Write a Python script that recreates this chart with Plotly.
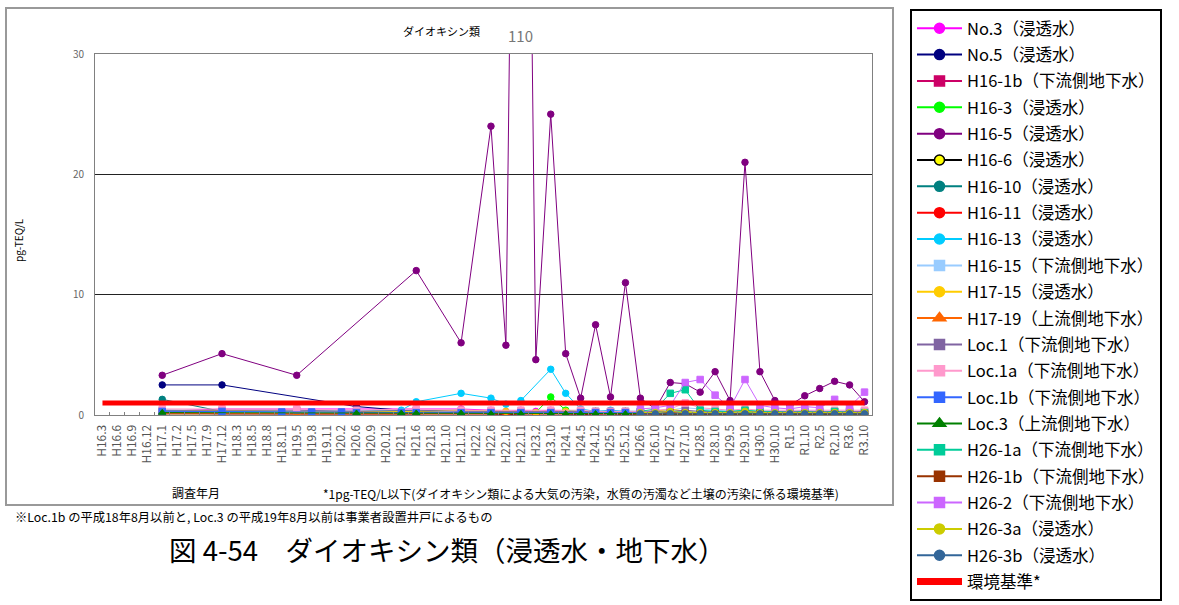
import plotly.graph_objects as go

categories = ["H16.3","H16.6","H16.9","H16.12","H17.1","H17.2","H17.5","H17.9","H17.12","H18.3",
              "H18.5","H18.8","H18.11","H19.5","H19.8","H19.11","H20.2","H20.6","H20.9","H20.12",
              "H21.1","H21.6","H21.8","H21.10","H21.12","H22.2","H22.6","H22.10","H22.11","H23.2",
              "H23.10","H24.1","H24.5","H24.12","H25.5","H25.12","H26.6","H26.10","H27.5","H27.10",
              "H28.5","H28.10","H29.5","H29.10","H30.5","H30.10","R1.5","R1.10","R2.5","R2.10",
              "R3.6","R3.10"]

# sampling dates (浸透水)
leach_dates = ["H17.1","H17.12","H19.5","H21.6","H21.12","H22.6","H22.10","H22.11","H23.2","H23.10",
               "H24.1","H24.5","H24.12","H25.5","H25.12","H26.6","H26.10","H27.5","H27.10","H28.5",
               "H28.10","H29.5","H29.10","H30.5","H30.10","R1.5","R1.10","R2.5","R2.10","R3.6","R3.10"]
# sampling dates (地下水)
gw_dates = ["H17.1","H17.12","H19.5","H20.6","H21.6","H21.12","H22.6","H22.11","H23.10","H24.5",
            "H24.12","H25.5","H25.12","H26.6","H26.10","H27.5","H27.10","H28.5","H28.10","H29.5",
            "H29.10","H30.5","H30.10","R1.5","R1.10","R2.5","R2.10","R3.6","R3.10"]
h26_dates = ["H26.6","H26.10","H27.5","H27.10","H28.5","H28.10","H29.5","H29.10","H30.5","H30.10",
             "R1.5","R1.10","R2.5","R2.10","R3.6","R3.10"]
no5_dates = ["H17.1","H17.12","H20.6","H21.6","H21.12","H22.6","H22.11","H23.10","H24.5","H25.5",
             "H26.6","H27.5","H28.5","H29.5","H30.5","R1.5","R2.5","R3.6"]
h16_13_dates = ["H17.1","H17.12","H19.5","H21.1","H21.6","H21.12","H22.6","H22.10","H22.11","H23.10",
                "H24.1","H24.5","H24.12","H25.5","H25.12","H26.6","H26.10","H27.5","H27.10","H28.5",
                "H28.10","H29.5","H29.10","H30.5","H30.10","R1.5","R1.10","R2.5","R2.10","R3.6","R3.10"]
loc1b_dates = ["H17.1","H17.12","H18.11","H19.8","H20.2","H20.6","H21.1","H21.6","H21.12","H22.6",
               "H22.11","H23.10","H24.5","H24.12","H25.5","H25.12","H26.6"]
loc3_dates = ["H17.1","H20.6","H21.1","H21.6","H21.12","H22.6","H22.11","H23.10","H24.1","H24.5",
              "H24.12","H25.5","H25.12","H26.6","H26.10","H27.5","H27.10","H28.5","H28.10","H29.5",
              "H29.10","H30.5","H30.10","R1.5","R1.10","R2.5","R2.10","R3.6","R3.10"]

no3_vals = [0.3,0.5,0.5,0.5,0.5,0.4,0.3,0.4,0.3,0.4,0.3,0.3,0.2,0.3,0.2,0.3,0.2,0.2,0.2,0.2,
            0.2,0.1,0.2,0.2,0.1,0.2,0.1,0.2,0.1,0.1,0.1]
no5_vals = [2.5,2.5,0.7,0.3,0.2,0.2,0.1,0.2,0.1,0.1,0.1,0.1,0.1,0.1,0.1,0.1,0.1,0.1]
h16_1b_vals = [0.2,0.1,0.1,0.1,0.1,0.2,0.1,0.1,0.2,0.1,0.1,0.1,0.1,0.1,0.1,0.1,0.1,0.1,0.1,0.1,
               0.1,0.1,0.1,0.1,0.1,0.1,0.1,0.1,0.1]
h16_3_vals = [0.2,0.3,0.2,0.3,0.4,0.3,0.2,0.3,0.2,1.5,0.4,0.3,0.3,0.2,0.3,0.2,0.2,0.3,0.2,0.2,
              0.2,0.1,0.2,0.2,0.1,0.1,0.1,0.1,0.1,0.1,0.1]
h16_5_vals = [3.3,5.1,3.3,12.0,6.0,24.0,5.8,110,4.6,25.0,5.1,1.4,7.5,1.5,11.0,1.4,0.5,2.7,2.6,1.9,
              3.6,1.2,21.0,3.6,1.2,0.8,1.6,2.2,2.8,2.5,1.1]
h16_6_vals = [0.1,0.1,0.1,0.1,0.1,0.1,0.0,0.1,0.1,0.1,0.1,0.0,0.1,0.1,0.0,0.1,0.1,0.0,0.1,0.0,
              0.1,0.0,0.1,0.0,0.1,0.0,0.1,0.0,0.1,0.0,0.1]
h16_10_vals = [1.3,0.3,0.2,0.2,0.2,0.2,0.1,0.2,0.1,0.2,0.1,0.1,0.2,0.1,0.1,0.1,0.2,0.1,0.1,0.1,
               0.1,0.1,0.1,0.1,0.1,0.1,0.1,0.1,0.1,0.1,0.1]
h16_11_vals = [0.2,0.15,0.1,0.1,0.1,0.1,0.1,0.1,0.1,0.1,0.1,0.1,0.1,0.1,0.1,0.1,0.1,0.1,0.1,0.1,
               0.1,0.1,0.1,0.1,0.1,0.1,0.1,0.1,0.1,0.1,0.1]
h16_13_vals = [0.4,0.3,0.3,0.4,1.1,1.8,1.4,0.9,1.2,3.8,1.8,0.5,0.3,0.4,0.3,0.3,0.2,0.3,0.3,0.2,
               0.3,0.2,0.3,0.2,0.2,0.2,0.1,0.2,0.1,0.1,0.1]
h16_15_vals = [0.3,0.2,0.2,0.2,0.2,0.3,0.2,0.2,0.3,0.2,0.2,0.2,0.2,0.2,0.3,0.4,0.6,0.5,0.4,0.3,
               0.4,0.3,0.3,0.3,0.4,0.3,0.3,0.3,0.3]
h17_15_vals = [0.3,0.4,0.3,0.3,0.4,0.3,0.3,0.3,0.2,0.3,0.3,0.2,0.3,0.2,0.3,0.2,0.3,0.5,0.3,0.2,
               0.3,0.2,0.3,0.2,0.2,0.2,0.3,0.2,0.2,0.2,0.2]
h17_19_vals = [0.1,0.1,0.1,0.1,0.1,0.1,0.1,0.1,0.1,0.1,0.1,0.1,0.1,0.1,0.1,0.1,0.1,0.1,0.1,0.1,
               0.1,0.1,0.1,0.1,0.1,0.1,0.1,0.1,0.1]
loc1_vals = [0.4,0.4,0.4,0.3,0.4,0.3,0.3,0.3,0.3,0.3,0.3,0.3,0.3,0.3,0.3,0.3,0.4,0.3,0.3,0.3,
             0.3,0.3,0.3,0.3,0.3,0.3,0.3,0.3,0.3]
loc1a_vals = [0.5,0.5,0.5,0.4,0.5,0.4,0.4,0.4,0.4,0.4,0.3,0.3,0.3,0.3,0.4,0.5,1.0,0.6,0.5,0.4,
              0.5,0.4,0.4,0.4,0.4,0.4,0.4,0.4,0.4]
loc1b_vals = [0.3,0.3,0.25,0.25,0.25,0.2,0.2,0.2,0.2,0.2,0.2,0.2,0.2,0.2,0.2,0.2,0.2]
loc3_vals = [0.2,0.15,0.15,0.15,0.15,0.1,0.1,0.1,0.1,0.1,0.1,0.1,0.1,0.1,0.1,0.1,0.1,0.1,0.1,0.1,
             0.1,0.1,0.1,0.1,0.1,0.1,0.1,0.1,0.1]
h26_1a_vals = [0.3,0.5,1.8,2.1,0.4,0.3,0.3,0.4,0.3,0.3,0.2,0.3,0.2,0.3,0.2,0.2]
h26_1b_vals = [0.1,0.1,0.2,0.1,0.1,0.1,0.1,0.1,0.1,0.1,0.1,0.1,0.1,0.1,0.1,0.1]
h26_2_vals = [0.5,0.6,0.8,2.7,2.95,1.65,0.6,2.95,0.8,0.6,0.5,0.7,0.6,1.3,0.7,1.9]
h26_3a_vals = [0.2,0.2,0.3,0.2,0.2,0.2,0.2,0.3,0.2,0.2,0.2,0.2,0.2,0.2,0.2,0.2]
h26_3b_vals = [0.1,0.1,0.1,0.1,0.1,0.1,0.1,0.1,0.1,0.1,0.1,0.1,0.1,0.1,0.1,0.1]

env_standard = 1.0   # 環境基準 1pg-TEQ/L
y_ticks = [0, 10, 20, 30]

series = [
    ("No.3（浸透水）", leach_dates, no3_vals, "#FF00FF", "circle", "#FF00FF", "#FF00FF"),
    ("No.5（浸透水）", no5_dates, no5_vals, "#000080", "circle", "#000080", "#000080"),
    ("H16-1b（下流側地下水）", gw_dates, h16_1b_vals, "#CC0066", "square", "#CC0066", "#CC0066"),
    ("H16-3（浸透水）", leach_dates, h16_3_vals, "#00FF00", "circle", "#00FF00", "#00FF00"),
    ("H16-5（浸透水）", leach_dates, h16_5_vals, "#800080", "circle", "#800080", "#800080"),
    ("H16-6（浸透水）", leach_dates, h16_6_vals, "#000000", "circle", "#FFFF00", "#000000"),
    ("H16-10（浸透水）", leach_dates, h16_10_vals, "#008080", "circle", "#008080", "#008080"),
    ("H16-11（浸透水）", leach_dates, h16_11_vals, "#FF0000", "circle", "#FF0000", "#FF0000"),
    ("H16-13（浸透水）", h16_13_dates, h16_13_vals, "#00CCFF", "circle", "#00CCFF", "#00CCFF"),
    ("H16-15（下流側地下水）", gw_dates, h16_15_vals, "#99CCFF", "square", "#99CCFF", "#99CCFF"),
    ("H17-15（浸透水）", leach_dates, h17_15_vals, "#FFCC00", "circle", "#FFCC00", "#FFCC00"),
    ("H17-19（上流側地下水）", gw_dates, h17_19_vals, "#FF6600", "triangle-up", "#FF6600", "#FF6600"),
    ("Loc.1（下流側地下水）", gw_dates, loc1_vals, "#8064A2", "square", "#8064A2", "#8064A2"),
    ("Loc.1a（下流側地下水）", gw_dates, loc1a_vals, "#FF99CC", "square", "#FF99CC", "#FF99CC"),
    ("Loc.1b（下流側地下水）", loc1b_dates, loc1b_vals, "#3366FF", "square", "#3366FF", "#3366FF"),
    ("Loc.3（上流側地下水）", loc3_dates, loc3_vals, "#008000", "triangle-up", "#008000", "#008000"),
    ("H26-1a（下流側地下水）", h26_dates, h26_1a_vals, "#00CC99", "square", "#00CC99", "#00CC99"),
    ("H26-1b（下流側地下水）", h26_dates, h26_1b_vals, "#993300", "square", "#993300", "#993300"),
    ("H26-2（下流側地下水）", h26_dates, h26_2_vals, "#CC66FF", "square", "#CC66FF", "#CC66FF"),
    ("H26-3a（浸透水）", h26_dates, h26_3a_vals, "#CCCC00", "circle", "#CCCC00", "#CCCC00"),
    ("H26-3b（浸透水）", h26_dates, h26_3b_vals, "#336699", "circle", "#336699", "#336699"),
]

FONT = "Noto Sans CJK JP"
fig = go.Figure()

for i, (name, xs, ys, lc, sym, fill, mline) in enumerate(series):
    grp = "g%d" % i
    # data trace (plot)
    fig.add_trace(go.Scatter(
        x=xs, y=ys, name=name, mode="lines+markers",
        line=dict(color=lc, width=1),
        marker=dict(symbol=sym, size=6.5, color=fill, line=dict(color=mline, width=1)),
        legendgroup=grp, showlegend=False,
    ))
    # legend entry (larger symbol as in the reference legend)
    fig.add_trace(go.Scatter(
        x=[None], y=[None], name=name, mode="lines+markers",
        line=dict(color=lc, width=2),
        marker=dict(symbol=sym, size=10 if sym != "triangle-up" else 11, color=fill,
                    line=dict(color=mline, width=1.5)),
        legendgroup=grp, legendrank=i + 1, hoverinfo="skip",
    ))

fig.add_trace(go.Scatter(
    x=[categories[0], categories[-1]], y=[env_standard, env_standard],
    name="環境基準*", mode="lines", line=dict(color="#FF0000", width=5),
    legendgroup="genv", showlegend=False,
))
fig.add_trace(go.Scatter(
    x=[None], y=[None], name="環境基準*", mode="lines",
    line=dict(color="#FF0000", width=7),
    legendgroup="genv", legendrank=100,
))

L, R, T, B = 95, 307, 54, 190
W, H = 1179, 605
pw, ph = W - L - R, H - T - B

def px(x):
    return (x - L) / pw

def py(y):
    return (H - B - y) / ph

fig.update_layout(
    width=W, height=H,
    margin=dict(l=L, r=R, t=T, b=B, autoexpand=False),
    paper_bgcolor="white", plot_bgcolor="white",
    font=dict(family=FONT, color="#000000"),
    showlegend=True,
    legend=dict(
        x=px(910), y=py(9), xanchor="left", yanchor="top",
        bordercolor="#000000", borderwidth=2, bgcolor="white",
        font=dict(family=FONT, size=16.5, color="#000000"),
        itemwidth=45, tracegroupgap=1.9, traceorder="grouped",
        maxheight=1000,
    ),
    xaxis=dict(
        type="category", categoryorder="array", categoryarray=categories,
        range=[-0.5, len(categories) - 0.5],
        tickangle=-90, tickfont=dict(size=12, color="#555555", family=FONT),
        showline=True, linecolor="#808080", linewidth=1, mirror=True,
        ticks="inside", tickson="boundaries", ticklen=3, tickcolor="#808080",
        showgrid=False, zeroline=False, ticklabelstandoff=4,
    ),
    yaxis=dict(
        range=[0, 30], tickvals=y_ticks, ticktext=[str(v) for v in y_ticks],
        tickfont=dict(size=10, color="#666666", family=FONT),
        showgrid=True, gridcolor="#222222", gridwidth=1,
        showline=True, linecolor="#808080", linewidth=1, mirror=True,
        zeroline=False, ticks="", ticklabelstandoff=8,
    ),
)

# outer chart frame
fig.add_shape(type="rect", xref="paper", yref="paper",
              x0=px(6), x1=px(893), y0=py(505), y1=py(8),
              line=dict(color="#999999", width=2), fillcolor="rgba(0,0,0,0)", layer="below")

ann = [
    dict(text="ダイオキシン類", x=px(441), y=py(31), size=11, xanchor="center"),
    dict(text="pg-TEQ/L", x=px(18), y=py(240), size=10, xanchor="center", textangle=-90),
    dict(text="調査年月", x=px(196), y=py(492), size=12, xanchor="center"),
    dict(text="*1pg-TEQ/L以下(ダイオキシン類による大気の汚染，水質の汚濁など土壌の汚染に係る環境基準)",
         x=px(581), y=py(494), size=12, xanchor="center"),
    dict(text="※Loc.1b の平成18年8月以前と, Loc.3 の平成19年8月以前は事業者設置井戸によるもの",
         x=px(13), y=py(517), size=12.3, xanchor="left"),
    dict(text="図 4-54　ダイオキシン類（浸透水・地下水）", x=px(447), y=py(549), size=27.5, xanchor="center"),
]
for a in ann:
    fig.add_annotation(text=a["text"], x=a["x"], y=a["y"], xref="paper", yref="paper",
                       xanchor=a["xanchor"], yanchor="middle", showarrow=False,
                       textangle=a.get("textangle", 0),
                       font=dict(family=FONT, size=a["size"], color="#000000"))

# off-scale value label for H16-5
fig.add_annotation(text=str(h16_5_vals[7]), x=leach_dates[7], y=30, xref="x", yref="y",
                   yanchor="bottom", yshift=6, showarrow=False,
                   font=dict(family=FONT, size=15, color="#777777"))

fig.write_html("out.html", config={"displayModeBar": False})

# remove the default page margin so the figure sits at the window origin
with open("out.html", "r", encoding="utf-8") as f:
    html = f.read()
html = html.replace("<body>", '<body style="margin:0;padding:0;">', 1)
with open("out.html", "w", encoding="utf-8") as f:
    f.write(html)
